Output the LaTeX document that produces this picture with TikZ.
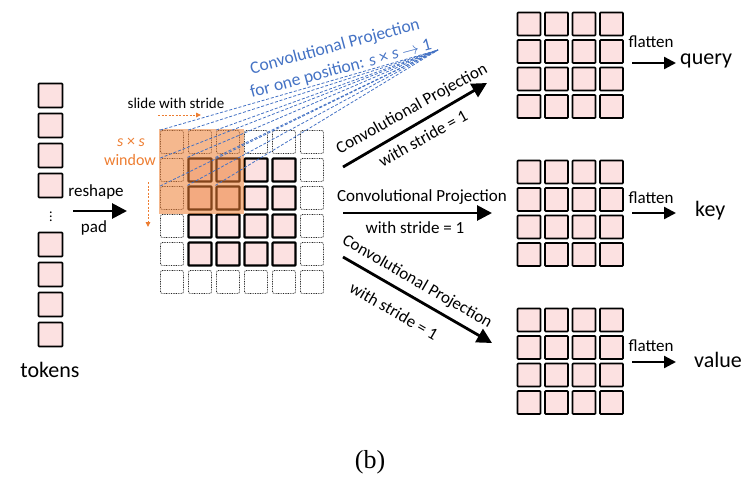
\documentclass[tikz,border=0pt]{standalone}
\usepackage{fontspec}
\setmainfont{Carlito}
\newfontfamily\serifb{Liberation Serif}
\usetikzlibrary{arrows.meta}
\definecolor{cellpink}{HTML}{FCE1E1}
\definecolor{winorange}{HTML}{ED7D31}
\definecolor{projblue}{HTML}{4472C4}
\tikzset{
  tok/.style={draw=black, line width=1.6pt, fill=cellpink, minimum size=24pt, inner sep=0pt, rounded corners=0.8pt},
  padcell/.style={draw=black!85, line width=0.8pt, dash pattern=on 0.8pt off 0.9pt, minimum size=23pt, inner sep=0pt, rounded corners=2pt},
  incell/.style={draw=black, line width=2.2pt, fill=cellpink, minimum size=23pt, inner sep=0pt, rounded corners=0.8pt},
  outcell/.style={draw=black, line width=1.6pt, fill=cellpink, minimum size=23pt, inner sep=0pt, rounded corners=0.8pt},
  bigarrow/.style={line width=2.8pt, -{Triangle[length=15pt,width=15pt]}},
  smallarrow/.style={line width=2.3pt, -{Triangle[length=12pt,width=12pt]}},
  projline/.style={projblue, line width=0.8pt, dash pattern=on 3pt off 1.8pt},
  lbl/.style={font=\fontsize{17}{19}\selectfont, inner sep=0pt},
  flat/.style={font=\fontsize{17}{19}\selectfont, inner sep=0pt},
  outname/.style={font=\fontsize{22}{24}\selectfont, anchor=west, inner sep=0pt},
}
\begin{document}
\begin{tikzpicture}[x=1pt, y=-1pt]
\useasboundingbox (0,0) rectangle (755,490);
% tokens
\foreach \i/\yy in {1/95.5, 2/125.5, 3/155.5, 4/185.5, 5/244.5, 6/274.5, 7/304.5, 8/334.5}
  \node[tok] (tk\i) at (50.5,\yy) {};
\node[inner sep=0pt] (tdots) at (51,214) {\fontsize{14}{14}\selectfont$\vdots$};
\node[font=\fontsize{22}{24}\selectfont] (tokens) at (50,370) {tokens};
% reshape arrow
\coordinate (ra) at (73,211);
\coordinate (rb) at (127,211);
\draw[bigarrow] (ra) -- (rb);
\node[lbl] (reshape) at (96,192) {reshape};
\node[lbl] (pad) at (94,228) {pad};
% middle grid 6x6
\foreach \c in {0,...,5}
  \foreach \r in {0,...,5} {
    \pgfmathtruncatemacro{\inner}{(\c>0)*(\c<5)*(\r>0)*(\r<5)}
    \ifnum\inner=1
      \node[incell] (g\c\r) at (172+28*\c, 142+28*\r) {};
    \else
      \node[padcell] (g\c\r) at (172+28*\c, 142+28*\r) {};
    \fi
  }
% window
\fill[winorange, opacity=0.55] (159,129) rectangle (244,214);
\node[text=winorange, font=\fontsize{16}{18}\selectfont, inner sep=0pt] (sxs) at (131,142) {\textit{s} × \textit{s}};
\node[text=winorange, font=\fontsize{16}{18}\selectfont, inner sep=0pt] (window) at (130,160) {window};
\coordinate (wa) at (148,182);
\coordinate (wb) at (148,227);
\draw[winorange, line width=0.9pt, dash pattern=on 2pt off 1.5pt, -{Triangle[length=5pt,width=4.5pt]}] (wa) -- (wb);
\node[font=\fontsize{15}{17}\selectfont, inner sep=0pt] (slide) at (176,103) {slide with stride};
\coordinate (sa) at (158,115);
\coordinate (sb) at (201,115);
\draw[winorange, line width=0.9pt, dash pattern=on 2pt off 1.5pt, -{Triangle[length=5pt,width=4.5pt]}] (sa) -- (sb);
% projection lines
\coordinate (conv) at (438,50);
\foreach \c in {0,1,2}
  \foreach \r in {0,1,2}
    \draw[projline] (g\c\r.north west) -- (conv);
\node[text=projblue, font=\fontsize{17.5}{23}\selectfont, align=center, rotate=15, inner sep=0pt] (projtxt) at (338,58)
  {Convolutional Projection\\for one position: \textit{s} × \textit{s} $\rightarrow$ 1};
% three arrows
\coordinate (a1s) at (343,167);
\coordinate (a1e) at (487,83);
\coordinate (a2s) at (343,213);
\coordinate (a2e) at (492,213);
\coordinate (a3s) at (343,257);
\coordinate (a3e) at (492,343);
\draw[bigarrow] (a1s) -- (a1e);
\node[lbl, rotate=29] (p1a) at (412,109) {Convolutional Projection};
\node[lbl, rotate=29] (p1b) at (423,138) {with stride = 1};
\draw[bigarrow] (a2s) -- (a2e);
\node[lbl] (p2a) at (422,197) {Convolutional Projection};
\node[lbl] (p2b) at (415,228) {with stride = 1};
\draw[bigarrow] (a3s) -- (a3e);
\node[lbl, rotate=-30] (p3a) at (417,282) {Convolutional Projection};
\node[lbl, rotate=-30] (p3b) at (394,311) {with stride = 1};
% output grids
\foreach \g/\top in {q/12, k/160, v/308}
  \foreach \c in {0,...,3}
    \foreach \r in {0,...,3}
      \node[outcell] (\g\c\r) at (529+27.5*\c, \top+12+27.5*\r) {};
% flatten arrows
\coordinate (fqa) at (632,63);
\coordinate (fqb) at (676,63);
\draw[smallarrow] (fqa) -- (fqb);
\node[flat] (fq) at (651,42) {flatten};
\node[outname] (query) at (680,61) {query};
\coordinate (fka) at (632,213);
\coordinate (fkb) at (676,213);
\draw[smallarrow] (fka) -- (fkb);
\node[flat] (fk) at (651,198) {flatten};
\node[outname] (key) at (695,211) {key};
\coordinate (fva) at (632,362);
\coordinate (fvb) at (676,362);
\draw[smallarrow] (fva) -- (fvb);
\node[flat] (fv) at (651,346) {flatten};
\node[outname] (value) at (694,360) {value};
% caption
\node[font=\serifb\fontsize{26}{28}\selectfont] (cap) at (370,462) {(b)};
\end{tikzpicture}
\end{document}
